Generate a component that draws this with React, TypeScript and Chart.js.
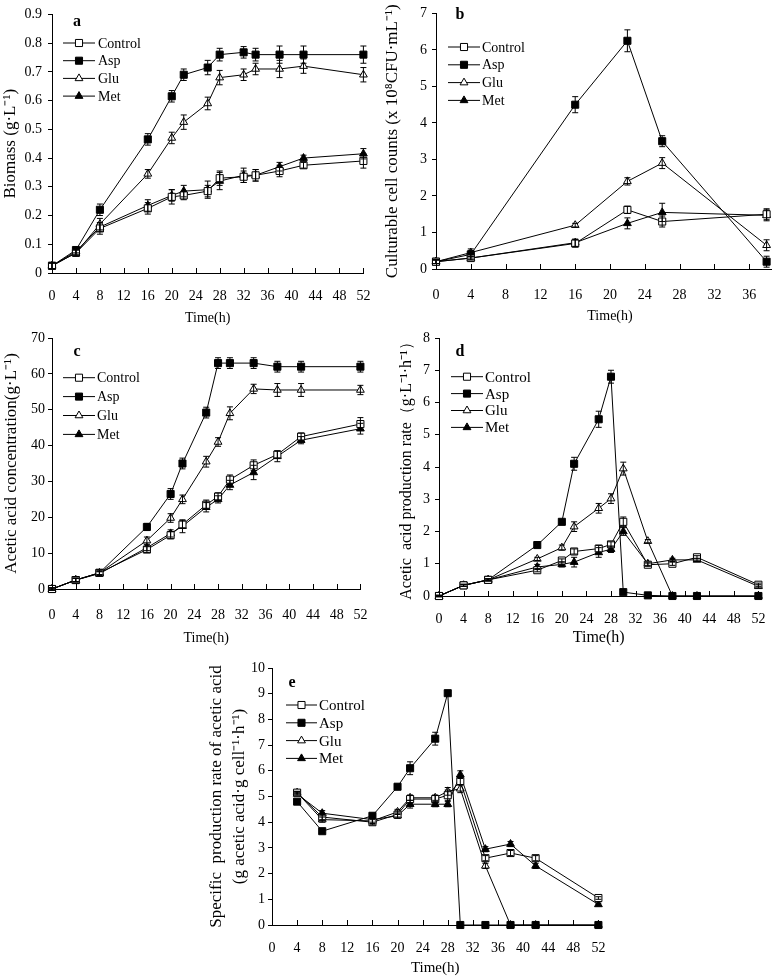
import React, { useEffect, useRef } from "react";
import { Chart, registerables } from "chart.js";
Chart.register(...registerables);

const FONT = '"Liberation Serif", "Times New Roman", serif';

const SERIES = ["Control", "Asp", "Glu", "Met"];
const MARKERS = ["rect", "rect", "triangle", "triangle"];
const FILLS = ["#ffffff", "#000000", "#ffffff", "#000000"];

// ---------- panel a : biomass ----------
const TIME_A = [0, 4, 8, 16, 20, 22, 26, 28, 32, 34, 38, 42, 52];
const BIOMASS_CONTROL = [0.025, 0.07, 0.155, 0.225, 0.265, 0.27, 0.285, 0.33, 0.335, 0.34, 0.355, 0.375, 0.39];
const BIOMASS_ASP = [0.025, 0.08, 0.22, 0.465, 0.615, 0.69, 0.715, 0.76, 0.768, 0.76, 0.76, 0.76, 0.76];
const BIOMASS_GLU = [0.025, 0.07, 0.17, 0.345, 0.47, 0.525, 0.59, 0.68, 0.69, 0.71, 0.71, 0.72, 0.69];
const BIOMASS_MET = [0.025, 0.075, 0.16, 0.235, 0.27, 0.285, 0.29, 0.32, 0.34, 0.34, 0.37, 0.4, 0.415];
const BIOMASS_ERR_CONTROL = [0.01, 0.01, 0.02, 0.02, 0.025, 0.015, 0.02, 0.025, 0.02, 0.02, 0.02, 0.01, 0.025];
const BIOMASS_ERR_ASP = [0.01, 0.01, 0.02, 0.02, 0.02, 0.02, 0.025, 0.022, 0.02, 0.022, 0.03, 0.03, 0.03];
const BIOMASS_ERR_GLU = [0.01, 0.01, 0.02, 0.015, 0.02, 0.025, 0.022, 0.025, 0.02, 0.02, 0.03, 0.025, 0.025];
const BIOMASS_ERR_MET = [0.01, 0.01, 0.015, 0.02, 0.02, 0.02, 0.03, 0.03, 0.025, 0.02, 0.015, 0.01, 0.018];
const TICKS_X_A = [0, 4, 8, 12, 16, 20, 24, 28, 32, 36, 40, 44, 48, 52];
const TICKS_Y_A = [0, 0.1, 0.2, 0.3, 0.4, 0.5, 0.6, 0.7, 0.8, 0.9];

// ---------- panel b : culturable cell counts ----------
const TIME_B = [0, 4, 16, 22, 26, 38];
const CELLS_CONTROL = [0.2, 0.3, 0.7, 1.62, 1.3, 1.5];
const CELLS_ASP = [0.2, 0.4, 4.5, 6.25, 3.5, 0.2];
const CELLS_GLU = [0.2, 0.45, 1.2, 2.4, 2.9, 0.65];
const CELLS_MET = [0.2, 0.3, 0.72, 1.25, 1.55, 1.47];
const CELLS_ERR_CONTROL = [0.05, 0.05, 0.1, 0.1, 0.15, 0.15];
const CELLS_ERR_ASP = [0.05, 0.1, 0.22, 0.3, 0.15, 0.15];
const CELLS_ERR_GLU = [0.05, 0.1, 0.05, 0.1, 0.15, 0.15];
const CELLS_ERR_MET = [0.05, 0.05, 0.1, 0.15, 0.25, 0.15];
const TICKS_X_B = [0, 4, 8, 12, 16, 20, 24, 28, 32, 36];
const TICKS_Y_B = [0, 1, 2, 3, 4, 5, 6, 7];

// ---------- panel c : acetic acid concentration ----------
const TIME_C = [0, 4, 8, 16, 20, 22, 26, 28, 30, 34, 38, 42, 52];
const ACID_CONTROL = [0, 2.5, 4.5, 11, 15, 18, 23.5, 25.8, 30.5, 34.5, 37.5, 42.5, 46];
const ACID_ASP = [0, 2.5, 4.5, 17.3, 26.5, 35, 49.2, 63, 63, 63, 62, 62, 62];
const ACID_GLU = [0, 2.5, 4.5, 13.5, 19.8, 25, 35.5, 41, 49, 55.8, 55.5, 55.5, 55.5];
const ACID_MET = [0, 2.5, 4.3, 11.5, 15.5, 17.5, 22.8, 25, 29, 32.5, 37, 41.5, 44.7];
const ACID_ERR_CONTROL = [0.3, 0.5, 0.5, 0.8, 1, 1, 1.3, 1, 1.3, 1.5, 1, 1, 1.8];
const ACID_ERR_ASP = [0.3, 0.5, 0.8, 1, 1.5, 1.5, 1.5, 1.5, 1.5, 1.5, 1.5, 1.5, 1.5];
const ACID_ERR_GLU = [0.3, 0.5, 0.5, 1, 1.2, 1.2, 1.5, 1.2, 1.8, 1.3, 1.8, 1.8, 1.3];
const ACID_ERR_MET = [0.3, 0.5, 0.5, 0.8, 1, 1.8, 1.3, 1, 1.3, 2, 1.5, 1, 1.5];
const TICKS_X_C = [0, 4, 8, 12, 16, 20, 24, 28, 32, 36, 40, 44, 48, 52];
const TICKS_Y_C = [0, 10, 20, 30, 40, 50, 60, 70];

// ---------- panel d : acetic acid production rate ----------
const TIME_D = [0, 4, 8, 16, 20, 22, 26, 28, 30, 34, 38, 42, 52];
const RATE_CONTROL = [0, 0.33, 0.5, 0.8, 1.1, 1.38, 1.47, 1.6, 2.3, 0.97, 1.0, 1.2, 0.35];
const RATE_ASP = [0, 0.33, 0.5, 1.58, 2.3, 4.1, 5.48, 6.8, 0.12, 0.02, 0, 0, 0];
const RATE_GLU = [0, 0.33, 0.5, 1.15, 1.5, 2.15, 2.72, 3.02, 3.95, 1.7, 0, 0, 0];
const RATE_MET = [0, 0.33, 0.5, 0.9, 0.98, 1.05, 1.35, 1.45, 2.0, 1.0, 1.12, 1.12, 0.3];
const RATE_ERR_CONTROL = [0.02, 0.03, 0.03, 0.05, 0.05, 0.08, 0.1, 0.08, 0.15, 0.05, 0.05, 0.05, 0.05];
const RATE_ERR_ASP = [0.02, 0.03, 0.03, 0.05, 0.05, 0.2, 0.25, 0.2, 0.05, 0.02, 0.02, 0.02, 0.02];
const RATE_ERR_GLU = [0.02, 0.03, 0.03, 0.05, 0.08, 0.15, 0.15, 0.15, 0.2, 0.05, 0.02, 0.02, 0.02];
const RATE_ERR_MET = [0.02, 0.03, 0.03, 0.08, 0.08, 0.15, 0.15, 0.1, 0.12, 0.05, 0.05, 0.05, 0.05];
const TICKS_X_D = [0, 4, 8, 12, 16, 20, 24, 28, 32, 36, 40, 44, 48, 52];
const TICKS_Y_D = [0, 1, 2, 3, 4, 5, 6, 7, 8];

// ---------- panel e : specific production rate ----------
const TIME_E = [4, 8, 16, 20, 22, 26, 28, 30, 34, 38, 42, 52];
const SPEC_CONTROL = [5.15, 4.2, 4.0, 4.3, 4.9, 4.9, 5.05, 5.6, 2.6, 2.8, 2.6, 1.05];
const SPEC_ASP = [4.8, 3.65, 4.25, 5.38, 6.1, 7.25, 9.02, 0, 0, 0, 0, 0];
const SPEC_GLU = [5.15, 4.1, 4.05, 4.4, 4.95, 4.95, 5.2, 5.3, 2.3, 0, 0, 0];
const SPEC_MET = [5.1, 4.35, 4.1, 4.25, 4.7, 4.7, 4.7, 5.85, 2.95, 3.15, 2.3, 0.8];
const SPEC_ERR_CONTROL = [0.05, 0.1, 0.1, 0.1, 0.15, 0.15, 0.2, 0.15, 0.1, 0.1, 0.1, 0.05];
const SPEC_ERR_ASP = [0.05, 0.05, 0.1, 0.1, 0.25, 0.25, 0.1, 0, 0, 0, 0, 0];
const SPEC_ERR_GLU = [0.05, 0.1, 0.1, 0.1, 0.1, 0.1, 0.15, 0.15, 0.1, 0, 0, 0];
const SPEC_ERR_MET = [0.05, 0.1, 0.1, 0.1, 0.15, 0.1, 0.1, 0.15, 0.1, 0.1, 0.1, 0.05];
const TICKS_X_E = [0, 4, 8, 12, 16, 20, 24, 28, 32, 36, 40, 44, 48, 52];
const TICKS_Y_E = [0, 1, 2, 3, 4, 5, 6, 7, 8, 9, 10];

type Panel = {
  key: string;
  letter: string;
  box: [number, number, number, number]; // left, top, width, height of canvas
  pad: { left: number; top: number; right: number; bottom: number };
  yWidth: number;
  xHeight: number;
  time: number[];
  values: number[][];
  errors: number[][];
  xTicks: number[];
  yTicks: number[];
  xMax: number;
  yFmt: (v: number) => string;
  yTitle: string | string[];
  yTitleSize: number;
  yTitleLH: number;
  yTitlePad: number;
  yTickPad: number;
  xTitleSize: number;
  xTitlePad: number;
  xTickPad: number;
  tickSize: number;
  letterPos: [number, number];
  legend: { x0: number; x1: number; tx: number; y0: number; dy: number; size: number };
};

const intFmt = (v: number) => String(Math.round(v));

const PANELS: Panel[] = [
  {
    key: "a", letter: "a", box: [0, 0, 385, 330],
    pad: { left: 0, top: 9, right: 15, bottom: 0 }, yWidth: 52, xHeight: 57,
    time: TIME_A,
    values: [BIOMASS_CONTROL, BIOMASS_ASP, BIOMASS_GLU, BIOMASS_MET],
    errors: [BIOMASS_ERR_CONTROL, BIOMASS_ERR_ASP, BIOMASS_ERR_GLU, BIOMASS_ERR_MET],
    xTicks: TICKS_X_A, yTicks: TICKS_Y_A, xMax: 52,
    yFmt: (v) => (Math.abs(v) < 1e-9 ? "0" : v.toFixed(1)),
    yTitle: "Biomass (g·L⁻¹)", yTitleSize: 17, yTitleLH: 1.2, yTitlePad: 0, yTickPad: 6,
    xTitleSize: 14, xTitlePad: 3.6, xTickPad: 14.6, tickSize: 14,
    letterPos: [77, 22],
    legend: { x0: 63, x1: 95, tx: 98, y0: 43, dy: 17.7, size: 14 },
  },
  {
    key: "b", letter: "b", box: [380, 0, 420, 330],
    pad: { left: 0, top: 10, right: 16, bottom: 0 }, yWidth: 56, xHeight: 61,
    time: TIME_B,
    values: [CELLS_CONTROL, CELLS_ASP, CELLS_GLU, CELLS_MET],
    errors: [CELLS_ERR_CONTROL, CELLS_ERR_ASP, CELLS_ERR_GLU, CELLS_ERR_MET],
    xTicks: TICKS_X_B, yTicks: TICKS_Y_B, xMax: 40,
    yFmt: intFmt,
    yTitle: "Culturable cell counts (x 10⁸CFU·mL⁻¹)", yTitleSize: 17, yTitleLH: 1.2, yTitlePad: 2, yTickPad: 5,
    xTitleSize: 14, xTitlePad: 5.6, xTickPad: 17.6, tickSize: 14,
    letterPos: [80, 15],
    legend: { x0: 68, x1: 100, tx: 102, y0: 47, dy: 17.8, size: 14 },
  },
  {
    key: "c", letter: "c", box: [0, 320, 385, 330],
    pad: { left: 0, top: 18, right: 21, bottom: 0 }, yWidth: 52, xHeight: 61,
    time: TIME_C,
    values: [ACID_CONTROL, ACID_ASP, ACID_GLU, ACID_MET],
    errors: [ACID_ERR_CONTROL, ACID_ERR_ASP, ACID_ERR_GLU, ACID_ERR_MET],
    xTicks: TICKS_X_C, yTicks: TICKS_Y_C, xMax: 52,
    yFmt: intFmt,
    yTitle: "Acetic acid concentration(g·L⁻¹)", yTitleSize: 17, yTitleLH: 1.2, yTitlePad: 1, yTickPad: 3,
    xTitleSize: 14, xTitlePad: 3.6, xTickPad: 17.6, tickSize: 14,
    letterPos: [77, 32],
    legend: { x0: 63, x1: 95, tx: 97, y0: 57.7, dy: 18.9, size: 14 },
  },
  {
    key: "d", letter: "d", box: [380, 320, 400, 330],
    pad: { left: 0, top: 18, right: 13, bottom: 0 }, yWidth: 59, xHeight: 54,
    time: TIME_D,
    values: [RATE_CONTROL, RATE_ASP, RATE_GLU, RATE_MET],
    errors: [RATE_ERR_CONTROL, RATE_ERR_ASP, RATE_ERR_GLU, RATE_ERR_MET],
    xTicks: TICKS_X_D, yTicks: TICKS_Y_D, xMax: 52,
    yFmt: intFmt,
    yTitle: "Acetic  acid production rate（g·L⁻¹·h⁻¹）", yTitleSize: 16, yTitleLH: 1.2, yTitlePad: 17.4, yTickPad: 5,
    xTitleSize: 16, xTitlePad: 2.4, xTickPad: 14.6, tickSize: 14,
    letterPos: [80, 32],
    legend: { x0: 71, x1: 103, tx: 105, y0: 56.7, dy: 16.9, size: 15 },
  },
  {
    key: "e", letter: "e", box: [180, 640, 440, 338],
    pad: { left: 0, top: 28, right: 20, bottom: 0 }, yWidth: 92, xHeight: 53,
    time: TIME_E,
    values: [SPEC_CONTROL, SPEC_ASP, SPEC_GLU, SPEC_MET],
    errors: [SPEC_ERR_CONTROL, SPEC_ERR_ASP, SPEC_ERR_GLU, SPEC_ERR_MET],
    xTicks: TICKS_X_E, yTicks: TICKS_Y_E, xMax: 52,
    yFmt: intFmt,
    yTitle: ["Specific  production rate of acetic acid", "(g acetic acid·g cell⁻¹·h⁻¹)"],
    yTitleSize: 17, yTitleLH: 1.37, yTitlePad: 25, yTickPad: 3,
    xTitleSize: 15, xTitlePad: 1, xTickPad: 14.6, tickSize: 14,
    letterPos: [112, 43],
    legend: { x0: 106, x1: 137, tx: 139, y0: 65, dy: 17.8, size: 15 },
  },
];

function drawMarker(ctx: CanvasRenderingContext2D, style: string, x: number, y: number, r: number, fill: string) {
  ctx.beginPath();
  if (style === "rect") {
    const s = r * Math.SQRT1_2;
    ctx.rect(x - s, y - s, 2 * s, 2 * s);
  } else {
    ctx.moveTo(x, y - r);
    ctx.lineTo(x + r * 0.866, y + r * 0.5);
    ctx.lineTo(x - r * 0.866, y + r * 0.5);
    ctx.closePath();
  }
  ctx.fillStyle = fill;
  ctx.fill();
  ctx.strokeStyle = "#000";
  ctx.lineWidth = 1;
  ctx.stroke();
}

const decoPlugin = {
  id: "panelDeco",
  afterDatasetsDraw(chart: any) {
    const ctx: CanvasRenderingContext2D = chart.ctx;
    const ys = chart.scales.y;
    ctx.save();
    ctx.strokeStyle = "#000";
    ctx.lineWidth = 1;
    chart.data.datasets.forEach((ds: any, i: number) => {
      const meta = chart.getDatasetMeta(i);
      const errs: number[] = ds.errors || [];
      meta.data.forEach((pt: any, j: number) => {
        const e = errs[j];
        if (!e) return;
        const v = ds.data[j].y;
        const x = pt.x;
        const y1 = ys.getPixelForValue(v + e);
        const y2 = ys.getPixelForValue(v - e);
        ctx.beginPath();
        ctx.moveTo(x, y1);
        ctx.lineTo(x, y2);
        ctx.moveTo(x - 3, y1);
        ctx.lineTo(x + 3, y1);
        ctx.moveTo(x - 3, y2);
        ctx.lineTo(x + 3, y2);
        ctx.stroke();
      });
    });
    ctx.restore();
  },
  afterDraw(chart: any, _args: any, opts: any) {
    const ctx: CanvasRenderingContext2D = chart.ctx;
    const xs = chart.scales.x;
    const ca = chart.chartArea;
    ctx.save();
    ctx.strokeStyle = "#000";
    ctx.lineWidth = 1;
    ctx.beginPath();
    xs.ticks.forEach((t: any) => {
      const px = Math.round(xs.getPixelForValue(t.value)) + 0.5;
      ctx.moveTo(px, ca.bottom);
      ctx.lineTo(px, ca.bottom - 5);
    });
    ctx.stroke();

    ctx.fillStyle = "#000";
    ctx.font = `bold 16px ${FONT}`;
    ctx.textAlign = "center";
    ctx.textBaseline = "middle";
    ctx.fillText(opts.letter, opts.letterPos[0], opts.letterPos[1]);

    const lg = opts.legend;
    ctx.font = `${lg.size}px ${FONT}`;
    ctx.textAlign = "left";
    SERIES.forEach((name, i) => {
      const y = lg.y0 + i * lg.dy;
      ctx.beginPath();
      ctx.moveTo(lg.x0, y);
      ctx.lineTo(lg.x1, y);
      ctx.strokeStyle = "#000";
      ctx.lineWidth = 1;
      ctx.stroke();
      drawMarker(ctx, MARKERS[i], (lg.x0 + lg.x1) / 2, y, MARKERS[i] === "rect" ? 5 : 4.5, FILLS[i]);
      ctx.fillStyle = "#000";
      ctx.fillText(name, lg.tx, y + 1);
    });
    ctx.restore();
  },
};

function PanelChart({ p }: { p: Panel }) {
  const ref = useRef<HTMLCanvasElement | null>(null);
  useEffect(() => {
    if (!ref.current) return;
    const datasets = SERIES.map((name, i) => ({
      label: name,
      data: p.time.map((t, j) => ({ x: t, y: p.values[i][j] })),
      errors: p.errors[i],
      borderColor: "#000",
      borderWidth: 1,
      pointStyle: MARKERS[i],
      pointRadius: MARKERS[i] === "rect" ? 5 : 4.5,
      pointBackgroundColor: FILLS[i],
      pointBorderColor: "#000",
      pointBorderWidth: 1,
      tension: 0,
      fill: false,
      clip: false,
    }));
    const chart = new Chart(ref.current, {
      type: "line",
      data: { datasets } as any,
      plugins: [decoPlugin as any],
      options: {
        animation: false,
        responsive: false,
        devicePixelRatio: 1,
        events: [],
        layout: { padding: p.pad },
        plugins: {
          legend: { display: false },
          tooltip: { enabled: false },
          panelDeco: { letter: p.letter, letterPos: p.letterPos, legend: p.legend },
        } as any,
        scales: {
          x: {
            type: "linear",
            min: 0,
            max: p.xMax,
            afterBuildTicks: (s: any) => {
              s.ticks = p.xTicks.map((v) => ({ value: v }));
            },
            afterFit: (s: any) => {
              s.height = p.xHeight;
            },
            grid: { display: false, drawTicks: false },
            border: { display: true, color: "#000", width: 1 },
            ticks: {
              color: "#000",
              font: { family: FONT, size: p.tickSize, weight: "normal" },
              padding: p.xTickPad,
              maxRotation: 0,
              autoSkip: false,
              callback: (v: any) => intFmt(Number(v)),
            },
            title: {
              display: true,
              text: "Time(h)",
              color: "#000",
              font: { family: FONT, size: p.xTitleSize, weight: "normal" },
              padding: { top: 0, bottom: p.xTitlePad },
            },
          },
          y: {
            type: "linear",
            min: p.yTicks[0],
            max: p.yTicks[p.yTicks.length - 1],
            afterBuildTicks: (s: any) => {
              s.ticks = p.yTicks.map((v) => ({ value: v }));
            },
            afterFit: (s: any) => {
              s.width = p.yWidth;
            },
            grid: { display: true, drawOnChartArea: false, drawTicks: true, tickLength: 4, color: "#000" },
            border: { display: true, color: "#000", width: 1 },
            ticks: {
              color: "#000",
              font: { family: FONT, size: p.tickSize, weight: "normal" },
              padding: p.yTickPad,
              autoSkip: false,
              callback: (v: any) => p.yFmt(Number(v)),
            },
            title: {
              display: true,
              text: p.yTitle,
              color: "#000",
              font: { family: FONT, size: p.yTitleSize, lineHeight: p.yTitleLH, weight: "normal" },
              padding: { top: p.yTitlePad, bottom: 0 },
            },
          },
        },
      } as any,
    });
    return () => chart.destroy();
  }, [p]);
  const [l, t, w, h] = p.box;
  return (
    <canvas
      ref={ref}
      width={w}
      height={h}
      style={{ position: "absolute", left: l, top: t, width: w, height: h }}
    />
  );
}

export default function App() {
  return (
    <div
      style={{
        position: "fixed",
        left: 0,
        top: 0,
        width: 772,
        height: 978,
        overflow: "hidden",
        background: "#ffffff",
      }}
    >
      {PANELS.map((p) => (
        <PanelChart key={p.key} p={p} />
      ))}
    </div>
  );
}
